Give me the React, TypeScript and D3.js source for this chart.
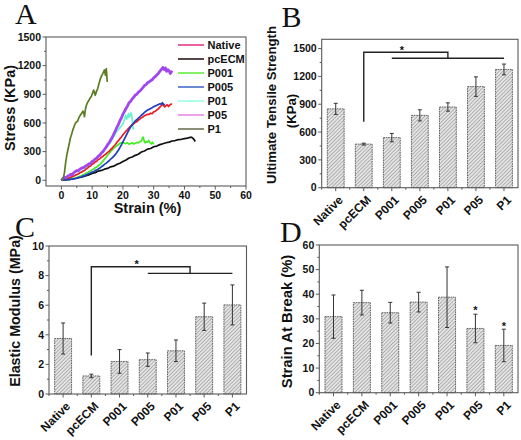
import React from 'react';
import * as d3 from 'd3';

// ---------- data ----------
const categories = ['Native', 'pcECM', 'P001', 'P005', 'P01', 'P05', 'P1'];

const utsMean = [850, 470, 540, 780, 870, 1090, 1275];
const utsErr = [60, 10, 45, 60, 45, 105, 58];
const modMean = [3.75, 1.22, 2.2, 2.32, 2.92, 5.22, 6.02];
const modErr = [1.05, 0.12, 0.8, 0.45, 0.73, 0.92, 1.35];
const sabMean = [30.9, 36.6, 32.5, 36.8, 38.8, 26.1, 19.2];
const sabErr = [8.8, 5.0, 4.2, 4.0, 12.3, 5.8, 6.6];

const stressTicks = [0, 300, 600, 900, 1200, 1500];
const stressMinor = [150, 450, 750, 1050, 1350];
const strainTicks = [0, 10, 20, 30, 40, 50, 60];
const strainMinor = [5, 15, 25, 35, 45, 55];
const utsTicks = [0, 300, 600, 900, 1200, 1500];
const utsMinor = [150, 450, 750, 1050, 1350];
const modTicks = [0, 2, 4, 6, 8, 10];
const modMinor = [1, 3, 5, 7, 9];
const sabTicks = [0, 10, 20, 30, 40, 50, 60];
const sabMinor = [5, 15, 25, 35, 45, 55];

const nativeCurve = [[0,0],[0.5,5],[1,10],[1.5,12],[2,20],[2.5,22],[3,32],[3.5,38],[4,45],[4.5,52],[5,60],[5.5,66],[6,78],[6.5,84],[7,95],[7.5,102],[8,118],[8.5,126],[9,142],[9.5,150],[10,168],[10.5,176],[11,192],[11.5,200],[12,218],[12.5,225],[13,242],[13.5,250],[14,265],[14.5,275],[15,292],[15.5,302],[16,322],[16.5,335],[17,356],[17.5,372],[18,396],[18.5,412],[19,436],[19.5,452],[20,476],[20.5,495],[21,515],[21.5,530],[22,550],[22.5,566],[23,580],[23.5,592],[24,606],[24.5,612],[25,630],[25.5,640],[26,655],[26.5,662],[27,676],[27.5,684],[28,690],[28.5,690],[29,702],[29.5,696],[30,716],[30.5,722],[31,736],[31.5,748],[32,766],[32.5,782],[33,800],[33.3,778],[33.6,768],[34,782],[34.4,790],[34.8,772],[35.2,786],[35.6,798],[36,796]];
const pcecmCurve = [[0,0],[1,2],[2,6],[3,9],[4,16],[5,21],[6,31],[7,37],[8,49],[9,57],[10,71],[11,80],[12,96],[13,103],[14,116],[15,124],[16,141],[17,148],[18,166],[19,178],[20,196],[21,212],[22,233],[23,243],[24,261],[25,273],[26,296],[27,306],[28,326],[29,333],[30,351],[31,358],[32,373],[33,383],[34,393],[35,399],[36,411],[37,416],[38,426],[39,429],[40,436],[41,441],[42,451],[42.5,447],[43,432],[43.5,406]];
const p001Curve = [[0,0],[0.5,2],[1,4],[1.5,5],[2,9],[2.5,10],[3,15],[3.5,17],[4,21],[4.5,24],[5,29],[5.5,33],[6,41],[6.5,46],[7,56],[7.5,62],[8,73],[8.5,80],[9,91],[9.5,99],[10,111],[10.5,118],[11,131],[11.5,139],[12,152],[12.5,164],[13,182],[13.5,198],[14,222],[14.5,240],[15,262],[15.5,280],[16,302],[16.5,318],[17,336],[17.5,350],[18,362],[18.5,372],[19,386],[19.5,392],[20,398],[20.5,388],[21,384],[21.5,392],[22,378],[22.5,386],[23,392],[23.5,380],[24,386],[24.5,396],[25,392],[25.5,402],[26,412],[26.3,440],[26.6,452],[26.9,410],[27.2,392],[27.6,406],[28,398],[28.4,418],[28.8,396],[29.2,380],[29.6,398],[30,376]];
const p005Curve = [[0,0],[0.5,1],[1,3],[1.5,4],[2,7],[2.5,8],[3,11],[3.5,12],[4,16],[4.5,18],[5,23],[5.5,27],[6,33],[6.5,37],[7,43],[7.5,48],[8,56],[8.5,62],[9,71],[9.5,77],[10,86],[10.5,92],[11,101],[11.5,109],[12,119],[12.5,128],[13,141],[13.5,152],[14,166],[14.5,177],[15,191],[15.5,204],[16,221],[16.5,234],[17,251],[17.5,268],[18,291],[18.5,314],[19,341],[19.5,370],[20,401],[20.5,433],[21,466],[21.5,498],[22,531],[22.5,556],[23,581],[23.5,600],[24,621],[24.5,634],[25,651],[25.5,664],[26,681],[26.5,694],[27,711],[27.5,722],[28,736],[28.5,742],[29,751],[29.5,760],[30,771],[30.5,776],[31,786],[31.5,792],[32,801],[32.4,796],[32.8,812],[33.2,796],[33.6,788]];
const p01Curve = [[0,0],[0.5,3],[1,6],[1.5,9],[2,16],[2.5,20],[3,29],[3.5,34],[4,43],[4.5,49],[5,59],[5.5,67],[6,79],[6.5,88],[7,101],[7.5,111],[8,126],[8.5,139],[9,156],[9.5,171],[10,191],[10.5,206],[11,226],[11.5,238],[12,256],[12.5,268],[13,286],[13.5,300],[14,321],[14.5,336],[15,356],[15.5,376],[16,401],[16.5,426],[17,456],[17.5,482],[18,511],[18.5,528],[19,551],[19.5,570],[20,592],[20.3,620],[20.6,650],[20.9,682],[21.2,640],[21.5,655],[21.8,700],[22.1,660],[22.4,690],[22.7,705],[23.0,640],[23.2,560],[23.4,530]];
const p05Curve = [[0,0],[0.5,20],[1,30],[1.5,28],[2,42],[2.5,50],[3,62],[3.5,58],[4,78],[4.5,90],[5,102],[5.5,98],[6,116],[6.5,126],[7,132],[7.5,140],[8,152],[8.5,160],[9,172],[9.5,178],[10,196],[10.5,206],[11,222],[11.5,232],[12,252],[12.5,264],[13,286],[13.5,300],[14,322],[14.5,344],[15,372],[15.5,392],[16,422],[16.5,448],[17,482],[17.5,514],[18,552],[18.5,582],[19,622],[19.5,652],[20,692],[20.5,720],[21,752],[21.5,778],[22,812],[22.5,826],[23,852],[23.5,868],[24,892],[24.5,900],[25,922],[25.5,934],[26,952],[26.5,970],[27,992],[27.5,1000],[28,1022],[28.5,1030],[29,1042],[29.5,1052],[30,1072],[30.5,1084],[31,1102],[31.5,1118],[32,1142],[32.5,1160],[33,1182],[33.4,1160],[33.8,1176],[34.2,1140],[34.6,1158],[35,1146],[35.4,1118],[35.8,1136],[36,1128]];
const p1Curve = [[0,0],[0.6,15],[1.0,80],[1.4,190],[1.8,270],[2.2,330],[2.6,390],[2.9,440],[3.3,480],[3.7,525],[4.1,560],[4.5,595],[4.9,610],[5.3,620],[5.7,655],[6.2,685],[6.6,700],[7.0,725],[7.3,700],[7.5,665],[7.8,740],[8.0,770],[8.3,800],[8.6,820],[9.0,840],[9.4,865],[9.7,875],[10.1,910],[10.5,945],[10.8,915],[11.0,890],[11.4,930],[11.8,960],[12.2,1010],[12.7,1065],[13.1,1095],[13.5,1120],[14.0,1155],[14.3,1100],[14.6,1170],[14.9,1030]];

const curveSeries = [
  { name: 'pcECM', data: pcecmCurve, color: '#111111', width: 1.7 },
  { name: 'P001', data: p001Curve, color: '#44ee22', width: 1.7 },
  { name: 'P01', data: p01Curve, color: '#6cf2cf', width: 1.7 },
  { name: 'Native', data: nativeCurve, color: '#ee1c24', width: 1.7 },
  { name: 'P005', data: p005Curve, color: '#1f3fc0', width: 1.7 },
  { name: 'P05', data: p05Curve, color: '#a246f0', width: 2.8 },
  { name: 'P1', data: p1Curve, color: '#5a7d22', width: 1.7 },
];
const legendNames = ['Native', 'pcECM', 'P001', 'P005', 'P01', 'P05', 'P1'];
const legendColors = ['#e23a86', '#2a1a1a', '#66ee44', '#4a6cc8', '#99ffe6', '#ea8ae0', '#707456'];

const FONT = "'Liberation Sans', Arial, Helvetica, sans-serif";
const SERIF = "'Liberation Serif', 'Times New Roman', serif";
const AXIS = '#5a5a5a';

function YAxis({ scale, x, ticks, minor, fmt }: any) {
  return (
    <g>
      {ticks.map((t: number) => (
        <g key={'y' + t}>
          <line x1={x - 3.5} x2={x} y1={scale(t)} y2={scale(t)} stroke={AXIS} strokeWidth={1} />
          <text x={x - 5} y={scale(t)} dy="0.36em" textAnchor="end" fontSize={10.5} fontWeight="bold" fontFamily={FONT} fill="#111">{fmt ? fmt(t) : t}</text>
        </g>
      ))}
      {minor.map((t: number) => (
        <line key={'ym' + t} x1={x - 2} x2={x} y1={scale(t)} y2={scale(t)} stroke={AXIS} strokeWidth={1} />
      ))}
    </g>
  );
}

function BarPanel({ left, right, top, bottom, domain, ticks, minor, means, errs, bracket, stars }: any) {
  const x = d3.scaleBand().domain(categories).range([left, right]).paddingInner(0.4).paddingOuter(0.2);
  const y = d3.scaleLinear().domain(domain).range([bottom, top]);
  const bw = x.bandwidth();
  const step = x.step();
  const cx = (c: string) => (x(c) as number) + bw / 2;
  return (
    <g>
      {categories.map((c, i) => (
        <g key={c}>
          <rect x={x(c)} y={y(means[i])} width={bw} height={y(domain[0]) - y(means[i])} fill="url(#hatch)" stroke="#555" strokeWidth={0.9} strokeDasharray="1.6 0.8" />
          <line x1={cx(c)} x2={cx(c)} y1={y(means[i] + errs[i])} y2={y(means[i] - errs[i])} stroke="#333" strokeWidth={1} />
          <line x1={cx(c) - 2} x2={cx(c) + 2} y1={y(means[i] + errs[i])} y2={y(means[i] + errs[i])} stroke="#333" strokeWidth={1} />
          <line x1={cx(c) - 2} x2={cx(c) + 2} y1={y(means[i] - errs[i])} y2={y(means[i] - errs[i])} stroke="#333" strokeWidth={1} />
        </g>
      ))}
      <rect x={left} y={top} width={right - left} height={bottom - top} fill="none" stroke={AXIS} strokeWidth={1.1} />
      <YAxis scale={y} x={left} ticks={ticks} minor={minor} />
      {categories.map((c, i) => (
        <g key={'xt' + c}>
          <line x1={cx(c)} x2={cx(c)} y1={bottom} y2={bottom + 3.5} stroke={AXIS} />
          <line x1={(x(c) as number) - (step - bw) / 2} x2={(x(c) as number) - (step - bw) / 2} y1={bottom} y2={bottom + 2} stroke={AXIS} />
          <text transform={`translate(${cx(c) + 5},${bottom + 10}) rotate(-45)`} textAnchor="end" dy="0.35em" fontSize={12} fontWeight="bold" fontFamily={FONT} fill="#111">{c}</text>
        </g>
      ))}
      {bracket && (() => {
        const x0 = cx(bracket.from);
        const gs = cx(bracket.groupStart);
        const ge = cx(bracket.groupEnd);
        const gm = (gs + ge) / 2;
        return (
          <g stroke="#222" strokeWidth={1.4} fill="none">
            <path d={`M${x0},${y(bracket.low)} V${y(bracket.top)} H${gm} V${y(bracket.groupY)}`} />
            <line x1={gs} x2={ge} y1={y(bracket.groupY)} y2={y(bracket.groupY)} />
            <text x={(x0 + gm) / 2 - 4} y={y(bracket.star) + 6} textAnchor="middle" fontSize={11} fontWeight="bold" fontFamily={FONT} fill="#111" stroke="none">*</text>
          </g>
        );
      })()}
      {stars && stars.map((s: any) => (
        <text key={'s' + s.cat} x={cx(s.cat)} y={y(s.v) + 6} textAnchor="middle" fontSize={11} fontWeight="bold" fontFamily={FONT} fill="#111">*</text>
      ))}
    </g>
  );
}

export default function App() {
  const xA = d3.scaleLinear().domain([-5, 60]).range([46, 246]);
  const yA = d3.scaleLinear().domain([-60, 1500]).range([186, 37]);
  const line = d3.line<number[]>().x((d) => xA(d[0])).y((d) => yA(d[1]));

  return (
    <div style={{ position: 'absolute', left: 0, top: 0 }}>
      <svg width={521} height={440} style={{ display: 'block', background: '#fff' }}>
        <defs>
          <pattern id="hatch" patternUnits="userSpaceOnUse" width={2.6} height={2.6} patternTransform="rotate(45)">
            <rect width={2.6} height={2.6} fill="#e4e4e4" />
            <line x1={0} y1={0} x2={0} y2={2.6} stroke="#888" strokeWidth={1.1} />
          </pattern>
          <clipPath id="clipA"><rect x={46} y={37} width={200} height={149} /></clipPath>
        </defs>

        {/* Panel A */}
        <text x={15} y={24} fontSize={30} fontFamily={SERIF} fill="#111">A</text>
        <g clipPath="url(#clipA)">
          {curveSeries.map((s) => (
            <path key={s.name} d={line(s.data as any) || ''} fill="none" stroke={s.color} strokeWidth={s.width} strokeLinejoin="round" />
          ))}
        </g>
        <rect x={46} y={37} width={200} height={149} fill="none" stroke={AXIS} strokeWidth={1.1} />
        <YAxis scale={yA} x={46} ticks={stressTicks} minor={stressMinor} />
        {strainTicks.map((t) => (
          <g key={'xa' + t}>
            <line x1={xA(t)} x2={xA(t)} y1={186} y2={189.5} stroke={AXIS} />
            <text x={xA(t)} y={199} textAnchor="middle" fontSize={10.5} fontWeight="bold" fontFamily={FONT} fill="#111">{t}</text>
          </g>
        ))}
        {strainMinor.map((t) => (
          <line key={'xam' + t} x1={xA(t)} x2={xA(t)} y1={186} y2={188} stroke={AXIS} />
        ))}
        <text transform="translate(9.5,108) rotate(-90)" textAnchor="middle" dy="0.35em" fontSize={14.5} fontWeight="bold" fontFamily={FONT} fill="#111">Stress (KPa)</text>
        <text x={147.5} y={213} textAnchor="middle" fontSize={14.5} fontWeight="bold" fontFamily={FONT} fill="#111">Strain (%)</text>
        {legendNames.map((n, i) => (
          <g key={'lg' + n}>
            <line x1={178} x2={204} y1={45 + i * 14} y2={45 + i * 14} stroke={legendColors[i]} strokeWidth={1.6} />
            <text x={207.5} y={45 + i * 14} dy="0.36em" fontSize={11} fontWeight="bold" fontFamily={FONT} fill="#111">{n}</text>
          </g>
        ))}

        {/* Panel B */}
        <text x={281.5} y={26.7} fontSize={30} fontFamily={SERIF} fill="#111">B</text>
        <BarPanel left={321.7} right={518} top={39.3} bottom={187.7} domain={[0, 1600]} ticks={utsTicks} minor={utsMinor}
          means={utsMean} errs={utsErr}
          bracket={{ from: 'pcECM', low: 710, top: 1460, groupStart: 'P001', groupEnd: 'P1', groupY: 1395, star: 1510 }} />
        <text transform="translate(271.5,105) rotate(-90)" textAnchor="middle" dy="0.35em" fontSize={13.2} fontWeight="bold" fontFamily={FONT} fill="#111">Ultimate Tensile Strength</text>
        <text transform="translate(291,111) rotate(-90)" textAnchor="middle" dy="0.35em" fontSize={13.2} fontWeight="bold" fontFamily={FONT} fill="#111">(KPa)</text>

        {/* Panel C */}
        <text x={15} y={237} fontSize={30} fontFamily={SERIF} fill="#111">C</text>
        <BarPanel left={49} right={246.5} top={246} bottom={394} domain={[0, 10]} ticks={modTicks} minor={modMinor}
          means={modMean} errs={modErr}
          bracket={{ from: 'pcECM', low: 2.6, top: 8.6, groupStart: 'P005', groupEnd: 'P1', groupY: 8.15, star: 8.95 }} />
        <text transform="translate(15,311) rotate(-90)" textAnchor="middle" dy="0.35em" fontSize={14.3} fontWeight="bold" fontFamily={FONT} fill="#111">Elastic Modulus (MPa)</text>

        {/* Panel D */}
        <text x={280} y={241.5} fontSize={30} fontFamily={SERIF} fill="#111">D</text>
        <BarPanel left={319.3} right={518} top={245} bottom={392.7} domain={[0, 60]} ticks={sabTicks} minor={sabMinor}
          means={sabMean} errs={sabErr}
          stars={[{ cat: 'P05', v: 34.3 }, { cat: 'P1', v: 27.9 }]} />
        <text transform="translate(286.7,321.5) rotate(-90)" textAnchor="middle" dy="0.35em" fontSize={14.8} fontWeight="bold" fontFamily={FONT} fill="#111">Strain At Break (%)</text>
      </svg>
    </div>
  );
}
